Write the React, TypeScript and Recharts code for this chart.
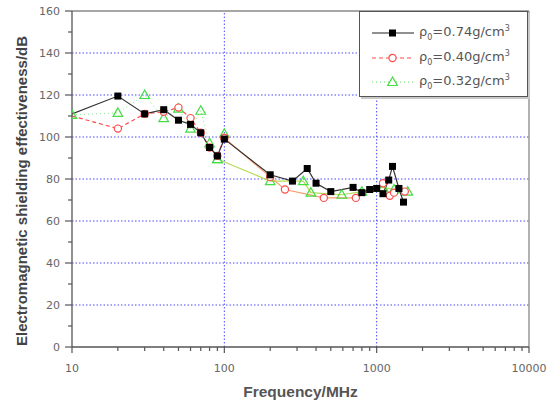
import React from "react";
import { LineChart, Line, XAxis, YAxis, ReferenceLine } from "recharts";

// frequency (MHz) and shielding effectiveness (dB) per sample density
const freq074 = [10, 20, 30, 40, 50, 60, 70, 80, 90, 100, 200, 280, 350, 400, 500, 700, 800, 900, 1000, 1100, 1200, 1270, 1400, 1500];
const se074 = [111, 119.5, 111, 113, 108, 106, 102, 95, 91, 99, 82, 79, 85, 78, 74, 76, 73.5, 75, 75.5, 73, 79.5, 86, 75.5, 69];

const freq040a = [10, 20, 30, 40, 50, 60, 70, 80, 90, 100];
const se040a = [110, 104, 111, 112, 114, 109, 102, 95, 91, 99.5];
const freq040b = [100, 200, 250, 450, 730, 1100, 1220, 1300, 1530];
const se040b = [99.5, 81, 75, 71, 71, 78, 72, 73.5, 74];

const freq032a = [10, 20, 30, 40, 50, 60, 70, 80, 90, 100];
const se032a = [110.5, 111.5, 120, 109, 113.5, 104, 112.5, 97, 89.5, 101.5];
const freq032b = [90, 200, 330, 370, 590, 800, 1100, 1300, 1600];
const se032b = [89.5, 79, 79, 73.5, 72.5, 74, 76, 75, 74];

const xTicks = [10, 20, 30, 40, 50, 60, 70, 80, 90, 100, 200, 300, 400, 500, 600, 700, 800, 900, 1000, 2000, 3000, 4000, 5000, 6000, 7000, 8000, 9000, 10000];
const xMajor = [10, 100, 1000, 10000];
const yTicks = [0, 10, 20, 30, 40, 50, 60, 70, 80, 90, 100, 110, 120, 130, 140, 150, 160];
const yMajor = [0, 20, 40, 60, 80, 100, 120, 140, 160];
const xGrid = [100, 1000];
const yGrid = [20, 40, 60, 80, 100, 120, 140];

const rows = (f: number[], v: number[]) => f.map((x, i) => ({ f: x, se: v[i] }));

const axisColor = "#555";
const tickFont = "'DejaVu Sans', sans-serif";

function XTick(props: any) {
  const { x, y, payload } = props;
  const major = xMajor.includes(payload.value);
  return (
    <g>
      <line x1={x} x2={x} y1={y} y2={y + (major ? 6 : 4)} stroke={axisColor} strokeWidth={1.2} />
      {major && (
        <text x={x} y={y + 25} textAnchor="middle" fontSize={11} fontFamily={tickFont} fill="#666">
          {payload.value}
        </text>
      )}
    </g>
  );
}

function YTick(props: any) {
  const { x, y, payload } = props;
  const major = yMajor.includes(payload.value);
  return (
    <g>
      <line x1={x} x2={x - (major ? 7 : 4)} y1={y} y2={y} stroke={axisColor} strokeWidth={1.2} />
      {major && (
        <text x={x - 12} y={y + 4} textAnchor="end" fontSize={11} fontFamily={tickFont} fill="#666">
          {payload.value}
        </text>
      )}
    </g>
  );
}

// the first point of the black and red series is drawn as a bare line start
const square = (p: any) =>
  p.cx == null || p.index === 0 ? <g key={p.index} /> : <rect key={p.index} x={p.cx - 3.5} y={p.cy - 3.5} width={7} height={7} fill="#000" />;
const circle = (p: any) =>
  p.cx == null ? <g key={p.index} /> : <circle key={p.index} cx={p.cx} cy={p.cy} r={3.6} fill="#fff" stroke="#ff4b4b" strokeWidth={1.2} />;
const circleLate = (p: any) => circle(p);
const circleEarly = (p: any) => (p.index === 0 ? <g key={p.index} /> : circle(p));
const triangle = (p: any) =>
  p.cx == null ? (
    <g key={p.index} />
  ) : (
    <polygon
      key={p.index}
      points={`${p.cx},${p.cy - 5} ${p.cx - 4.8},${p.cy + 3.5} ${p.cx + 4.8},${p.cy + 3.5}`}
      fill="none"
      stroke="#44dd44"
      strokeWidth={1.2}
    />
  );

const YTitle = () => (
  <text
    transform="translate(27,191) rotate(-90)"
    textAnchor="middle"
    fontSize={15}
    fontWeight="bold"
    fontFamily="'Liberation Sans', Arial, sans-serif"
    fill="#444"
  >
    Electromagnetic shielding effectiveness/dB
  </text>
);

const legendItems = [
  { value: "0.74", icon: "square" },
  { value: "0.40", icon: "circle" },
  { value: "0.32", icon: "triangle" },
];

function LegendIcon({ kind }: { kind: string }) {
  return (
    <svg width={42} height={14} style={{ display: "block" }}>
      {kind === "square" && (
        <>
          <line x1={0} x2={42} y1={7} y2={7} stroke="#222" strokeWidth={1.2} />
          <rect x={17} y={3.5} width={7} height={7} fill="#000" />
        </>
      )}
      {kind === "circle" && (
        <>
          <line x1={0} x2={42} y1={7} y2={7} stroke="#ff4b4b" strokeWidth={1.2} strokeDasharray="4 3" />
          <circle cx={20.5} cy={7} r={3.6} fill="#fff" stroke="#ff4b4b" strokeWidth={1.2} />
        </>
      )}
      {kind === "triangle" && (
        <>
          <line x1={0} x2={42} y1={7} y2={7} stroke="#66e066" strokeWidth={1.2} strokeDasharray="1 3" />
          <polygon points="20.5,2 15.7,10.5 25.3,10.5" fill="#fff" stroke="#44dd44" strokeWidth={1.2} />
        </>
      )}
    </svg>
  );
}

export default function App() {
  return (
    <div style={{ position: "relative", width: 549, height: 403, background: "#fff" }}>
      <style>{"body{margin:0}"}</style>
      <LineChart width={549} height={403} margin={{ top: 11, right: 20, bottom: 0, left: 0 }}>
        <XAxis
          dataKey="f"
          type="number"
          scale="log"
          domain={[10, 10000]}
          ticks={xTicks}
          interval={0}
          height={56}
          tickSize={0}
          tickMargin={0}
          tickLine={false}
          tick={<XTick />}
          stroke={axisColor}
          strokeWidth={1.3}
          allowDataOverflow
          label={{
            value: "Frequency/MHz",
            position: "insideBottom",
            offset: 6,
            fontSize: 15.5,
            fontWeight: "bold",
            fontFamily: "'Liberation Sans', Arial, sans-serif",
            fill: "#555",
          }}
        />
        <YAxis
          type="number"
          domain={[0, 160]}
          ticks={yTicks}
          interval={0}
          width={72}
          tickSize={0}
          tickMargin={0}
          tickLine={false}
          tick={<YTick />}
          stroke={axisColor}
          strokeWidth={1.3}
          label={<YTitle />}
        />
        {yGrid.map((v) => (
          <ReferenceLine key={"y" + v} y={v} stroke="#4a4aff" strokeDasharray="1.5 2" strokeWidth={1} />
        ))}
        {xGrid.map((v) => (
          <ReferenceLine key={"x" + v} x={v} stroke="#4a4aff" strokeDasharray="1.5 2" strokeWidth={1} />
        ))}
        <ReferenceLine y={160} stroke="#888" strokeWidth={1.3} />
        <ReferenceLine x={10000} stroke="#888" strokeWidth={1.3} />

        <Line data={rows(freq032a, se032a)} dataKey="se" stroke="#8be88b" strokeWidth={1} strokeDasharray="1 3" dot={triangle} activeDot={false} isAnimationActive={false} />
        <Line data={rows(freq032b, se032b)} dataKey="se" stroke="#b5dc55" strokeWidth={1.2} dot={triangle} activeDot={false} isAnimationActive={false} />
        <Line data={rows(freq040a, se040a)} dataKey="se" stroke="#ff4b4b" strokeWidth={1.2} strokeDasharray="4 3" dot={circleEarly} activeDot={false} isAnimationActive={false} />
        <Line data={rows(freq040b, se040b)} dataKey="se" stroke="#ff9a6a" strokeWidth={1.2} dot={circleLate} activeDot={false} isAnimationActive={false} />
        <Line data={rows(freq074, se074)} dataKey="se" stroke="#333" strokeWidth={1.2} dot={square} activeDot={false} isAnimationActive={false} />
      </LineChart>

      <div
        style={{
          position: "absolute",
          left: 359,
          top: 11,
          width: 167,
          height: 84,
          border: "1.5px solid #555",
          boxShadow: "2px 2px 0 #c8c8c8",
          background: "#fff",
          fontFamily: tickFont,
          fontSize: 13,
          color: "#555",
        }}
      >
        {legendItems.map((it, i) => (
          <div
            key={it.value}
            style={{ position: "absolute", left: 12, top: 13 + i * 24.5, display: "flex", alignItems: "center", height: 16 }}
          >
            <LegendIcon kind={it.icon} />
            <span style={{ marginLeft: 5, whiteSpace: "nowrap" }}>
              ρ<sub style={{ fontSize: 8 }}>0</sub>={it.value}g/cm<sup style={{ fontSize: 8 }}>3</sup>
            </span>
          </div>
        ))}
      </div>
    </div>
  );
}
